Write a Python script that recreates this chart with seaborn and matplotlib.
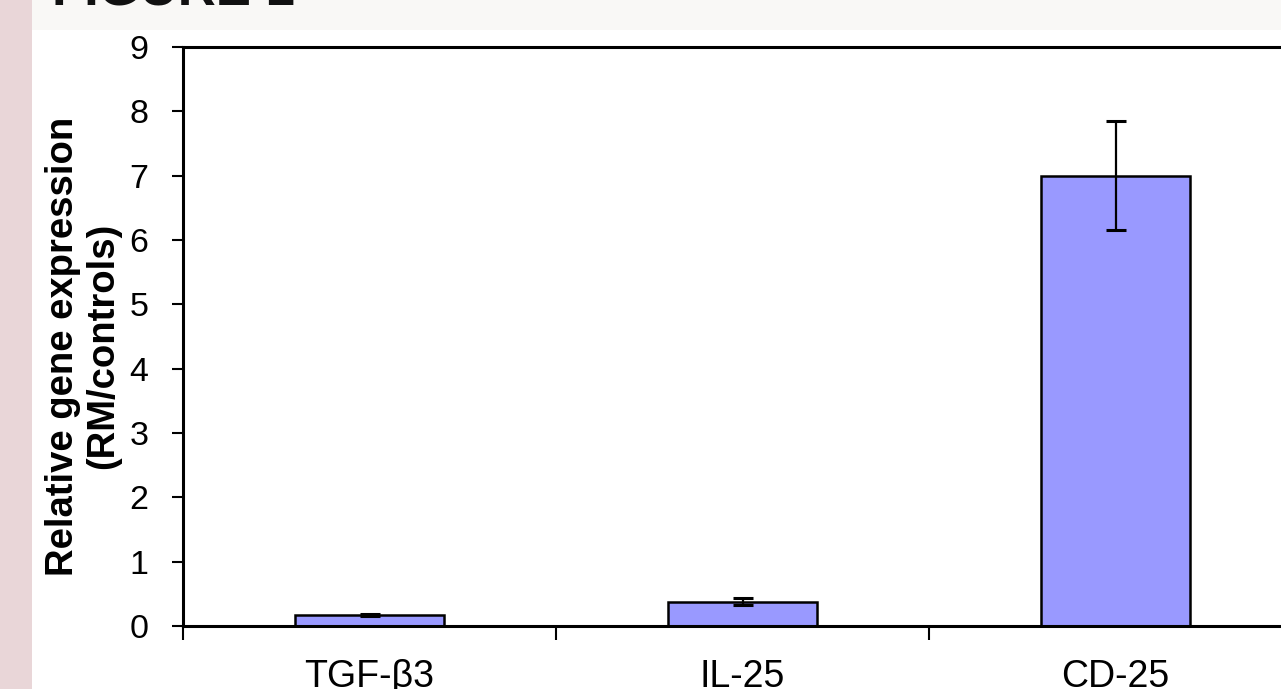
import matplotlib
matplotlib.use("Agg")
import matplotlib.pyplot as plt
import seaborn as sns
import pandas as pd
from matplotlib.patches import Rectangle

categories = ["TGF-\u03b23", "IL-25", "CD-25"]
values = [0.17, 0.38, 7.0]
errors = [0.02, 0.06, 0.85]
yticks = [0, 1, 2, 3, 4, 5, 6, 7, 8, 9]

sns.set_theme(style="white")
plt.rcParams['font.family'] = ['Liberation Sans', 'DejaVu Sans']

W, H = 1281, 689
fig = plt.figure(figsize=(W / 100, H / 100), dpi=100)
fig.patch.set_facecolor("white")

# decorative page background
fig.add_artist(Rectangle((0, 0), 32 / W, 1, transform=fig.transFigure,
                         facecolor="#E9D6D8", edgecolor="none", zorder=0))
fig.add_artist(Rectangle((32 / W, 1 - 30 / H), 1, 30 / H, transform=fig.transFigure,
                         facecolor="#F9F8F6", edgecolor="none", zorder=0))
fig.text(52 / W, 1 - 6 / H, "FIGURE 1", fontsize=38, fontweight="bold",
         color="#111111", va="baseline", ha="left")

left, right = 183, 1302
top, bottom = 47, 626
ax = fig.add_axes([left / W, 1 - bottom / H, (right - left) / W, (bottom - top) / H])
ax.set_facecolor("white")

df = pd.DataFrame({"gene": categories, "value": values})
sns.barplot(data=df, x="gene", y="value", order=categories, color="#9999FF",
            saturation=1, width=0.4, edgecolor="black", linewidth=1.8,
            errorbar=None, ax=ax)
ax.errorbar(range(len(categories)), values, yerr=errors, fmt="none",
            ecolor="black", elinewidth=1.6, capsize=7, capthick=2.2, zorder=5)

ax.set_xlim(-0.5, 2.5)
ax.set_ylim(0, 9)
ax.set_yticks(yticks)
ax.set_yticklabels([str(t) for t in yticks])
ax.set_xticks(range(len(categories)))
ax.set_xticklabels(categories)
ax.set_xticks([-0.5, 0.5, 1.5], minor=True)

ax.tick_params(axis="y", direction="out", length=8, width=1.5, pad=17,
               labelsize=24.5, colors="black", left=True)
ax.tick_params(axis="x", which="major", length=0, pad=24, labelsize=27,
               colors="black")
ax.tick_params(axis="x", which="minor", direction="out", length=10, width=1.5,
               bottom=True, colors="black")

for s in ["left", "bottom", "top"]:
    ax.spines[s].set_visible(True)
    ax.spines[s].set_color("black")
    ax.spines[s].set_linewidth(2.2)
ax.spines["right"].set_visible(False)

ax.set_xlabel("")
ax.set_ylabel("Relative gene expression\n(RM/controls)", fontsize=27.5,
              fontweight="bold", color="black", linespacing=1.15)
ax.yaxis.set_label_coords((121 - left) / (right - left), (bottom - 346) / (bottom - top))

fig.savefig("out.png", dpi=100)
